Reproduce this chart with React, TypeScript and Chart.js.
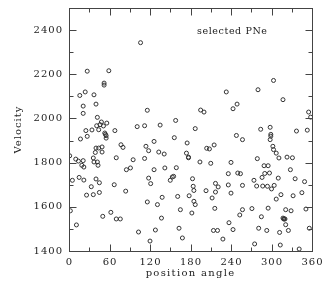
import React, { useEffect, useRef } from "react";
import { Chart, registerables } from "chart.js";

Chart.register(...registerables);

const positionAngle = [
  1, 2, 5, 10, 11, 14, 15, 16, 17, 19, 21, 21, 21, 22, 22, 24, 25, 26, 27, 27,
  33, 34, 36, 36, 37, 37, 39, 40, 40, 40, 41, 42, 42, 43, 44, 44, 45, 45, 46, 48,
  49, 49, 50, 51, 52, 52, 53, 54, 55, 55, 56, 59, 62, 67, 68, 70, 70, 77, 76, 80,
  84, 85, 91, 95, 101, 103, 106, 112, 112, 114, 116, 116, 118, 118, 120, 121, 126, 126, 128, 131,
  133, 135, 137, 138, 141, 142, 150, 153, 155, 156, 158, 159, 161, 163, 165, 168, 174, 175, 177, 177,
  178, 182, 183, 184, 185, 185, 187, 187, 194, 195, 200, 203, 204, 208, 210, 212, 214, 215, 216, 217,
  217, 221, 220, 228, 233, 236, 236, 237, 240, 240, 243, 243, 248, 249, 250, 253, 254, 257, 257, 257,
  271, 274, 275, 278, 279, 280, 281, 284, 285, 286, 287, 289, 290, 293, 295, 294, 295, 297, 298, 299,
  299, 298, 300, 302, 304, 303, 303, 307, 307, 310, 311, 312, 313, 314, 317, 317, 318, 319, 320, 321,
  321, 323, 325, 328, 329, 331, 332, 335, 337, 341, 345, 349, 351, 353, 355, 356, 358,
];

const velocity = [
  1831, 1582, 1720, 1816, 1518, 1807, 1733, 2104, 1907, 1788, 2056, 2023, 1809, 1780, 1721, 2120, 1945, 1653, 2214, 1919,
  1691, 1948, 1655, 1821, 1803, 2107, 1846, 1726, 2065, 1866, 1967, 1803, 2005, 1788, 1866, 1949, 1709, 1665, 1972, 1984,
  1871, 1848, 1557, 1966, 2160, 2151, 1934, 1928, 1922, 1911, 1979, 2216, 1575, 1700, 1945, 1545, 1822, 1881, 1545, 1869,
  1671, 1768, 1776, 1813, 1963, 1486, 2343, 1967, 1819, 1874, 2037, 1622, 1854, 1730, 1445, 1705, 1896, 1768, 1495, 1610,
  1848, 1970, 1549, 1643, 1839, 1776, 1720, 1735, 1738, 1913, 1991, 1777, 1647, 1503, 1587, 1459, 1843, 1889, 1825, 1822,
  1650, 1572, 1727, 1693, 1625, 1674, 1610, 1954, 1803, 2038, 2029, 1673, 1865, 1862, 1797, 1640, 1493, 1880, 1593, 1706,
  1667, 1690, 1493, 1454, 2120, 1750, 1699, 1528, 1801, 1662, 2044, 1497, 1923, 2065, 1753, 1563, 1750, 1904, 1587, 1697,
  1592, 1720, 1432, 1694, 1818, 2130, 1503, 1951, 1555, 1733, 1694, 1786, 1751, 1493, 1786, 1693, 1594, 1753, 1960, 1928,
  1920, 1904, 1681, 1874, 1697, 1859, 2172, 1843, 1635, 1730, 1821, 1484, 1427, 1655, 1549, 2085, 1545, 1545, 1545, 1587,
  1519, 1825, 1493, 1768, 1582, 1822, 1650, 1727, 1943, 1409, 1664, 1714, 1590, 1947, 2029, 1503, 2006,
];

const xMajorTicks = [0, 60, 120, 180, 240, 300, 360];
const xMinorTicks = [30, 90, 150, 210, 270, 330];
const yMajorTicks = [1400, 1600, 1800, 2000, 2200, 2400];
const yMinorTicks = [1500, 1700, 1900, 2100, 2300, 2500];

const xTitle = "position angle";
const yTitle = "Velocity";
const annotation = "selected PNe";

const FONT = "'DejaVu Serif', 'Liberation Serif', serif";
const INK = "#222";

const framePlugin = {
  id: "frameTicks",
  afterDraw(chart: any) {
    const { ctx, chartArea } = chart;
    const xs = chart.scales.x;
    const ys = chart.scales.y;
    const { left, right, top, bottom } = chartArea;
    ctx.save();
    ctx.strokeStyle = "#444";
    ctx.lineWidth = 1;
    ctx.strokeRect(Math.round(left) + 0.5, Math.round(top) + 0.5, Math.round(right - left), Math.round(bottom - top));

    const tick = (x1: number, y1: number, x2: number, y2: number) => {
      ctx.beginPath();
      ctx.moveTo(x1, y1);
      ctx.lineTo(x2, y2);
      ctx.stroke();
    };
    const B = Math.round(bottom) + 0.5;
    const T = Math.round(top) + 0.5;
    const L = Math.round(left) + 0.5;
    const R = Math.round(right) + 0.5;
    const drawX = (vals: number[], len: number) => {
      vals.forEach((v) => {
        const px = Math.round(xs.getPixelForValue(v)) + 0.5;
        tick(px, B, px, B - len);
        tick(px, T, px, T + len);
      });
    };
    const drawY = (vals: number[], len: number) => {
      vals.forEach((v) => {
        const py = Math.round(ys.getPixelForValue(v)) + 0.5;
        tick(L, py, L + len, py);
        tick(R, py, R - len, py);
      });
    };
    drawX(xMajorTicks, 7);
    drawX(xMinorTicks, 4);
    drawY(yMajorTicks, 7);
    drawY(yMinorTicks, 4);

    ctx.fillStyle = INK;
    ctx.font = `10px ${FONT}`;
    ctx.letterSpacing = "1px";
    ctx.textAlign = "center";
    ctx.textBaseline = "middle";
    xMajorTicks.forEach((v) => {
      ctx.fillText(String(v), xs.getPixelForValue(v) + 0.5, bottom + 11);
    });
    ctx.textAlign = "right";
    yMajorTicks.forEach((v) => {
      ctx.fillText(String(v), left - 6, ys.getPixelForValue(v));
    });

    ctx.textAlign = "center";
    ctx.letterSpacing = "1.3px";
    ctx.fillText(xTitle, (left + right) / 2, bottom + 22);

    ctx.save();
    ctx.translate(18, (top + bottom) / 2);
    ctx.rotate(-Math.PI / 2);
    ctx.letterSpacing = "1px";
    ctx.fillText(yTitle, 0, 0);
    ctx.restore();

    ctx.font = `9.5px ${FONT}`;
    ctx.letterSpacing = "0.6px";
    ctx.textAlign = "left";
    ctx.fillText(annotation, left + 128, top + 24);
    ctx.restore();
  },
};

export default function App() {
  const ref = useRef<HTMLCanvasElement | null>(null);
  useEffect(() => {
    if (!ref.current) return;
    const data = positionAngle.map((x, i) => ({ x, y: velocity[i] }));
    const chart = new Chart(ref.current, {
      type: "scatter",
      data: {
        datasets: [
          {
            data,
            pointRadius: 2,
            pointBorderWidth: 1,
            pointBorderColor: "#333",
            pointBackgroundColor: "rgba(0,0,0,0)",
            pointHoverRadius: 2,
          },
        ],
      },
      options: {
        animation: false,
        responsive: false,
        events: [],
        layout: { padding: { left: 69, right: 20, top: 8, bottom: 44 } },
        plugins: { legend: { display: false }, tooltip: { enabled: false } },
        scales: {
          x: { type: "linear", min: 0, max: 360, display: false },
          y: { type: "linear", min: 1400, max: 2500, display: false },
        },
      },
      plugins: [framePlugin],
    });
    return () => chart.destroy();
  }, []);
  return (
    <div style={{ position: "fixed", left: 0, top: 0, width: 332, height: 295, background: "#fff" }}>
      <canvas ref={ref} width={332} height={295} style={{ width: 332, height: 295, display: "block" }} />
    </div>
  );
}
